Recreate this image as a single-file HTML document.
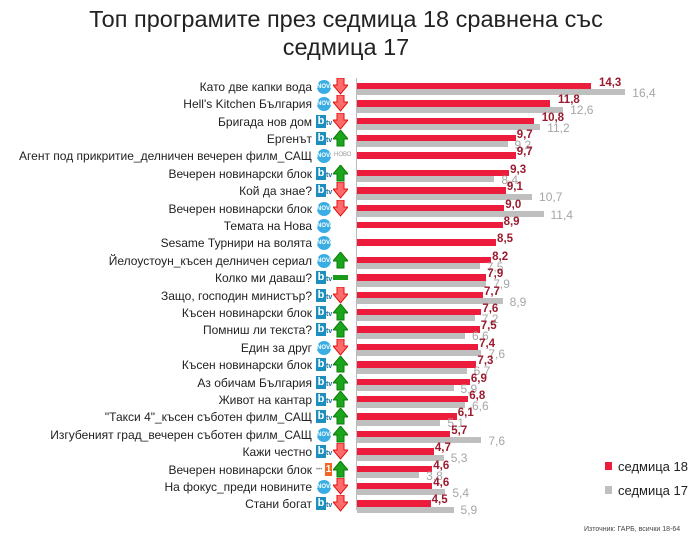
<!DOCTYPE html>
<html><head><meta charset="utf-8"><style>
body{margin:0;width:696px;height:542px;background:#fff;font-family:"Liberation Sans",sans-serif;position:relative;overflow:hidden}
.a{position:absolute;white-space:nowrap}
.t{left:0;width:692px;text-align:center;font-size:23.5px;color:#222;line-height:27px}
.lab{right:384px;font-size:12px;color:#222;text-align:right}
.r{background:#ec1c3c;height:6.5px;left:357px}
.g{background:#bfbfbf;height:6px;left:357px}
.rv{font-size:11.5px;font-weight:bold;color:#9b1b2e}
.gv{font-size:12px;color:#a6a6a6}
</style></head><body>
<div class="a t" style="top:6px">Топ програмите през седмица 18 сравнена със</div>
<div class="a t" style="top:34px">седмица 17</div>
<div class="a" style="left:356px;top:78px;width:1px;height:432px;background:#bbb"></div>
<div id="c"></div>
<div class="a" style="left:605px;top:462px;width:7px;height:8px;background:#ec1c3c"></div>
<div class="a" style="left:618px;top:459px;font-size:13px;color:#222">седмица 18</div>
<div class="a" style="left:605px;top:486px;width:7px;height:8px;background:#bfbfbf"></div>
<div class="a" style="left:618px;top:483px;font-size:13px;color:#222">седмица 17</div>
<div class="a" style="left:584px;top:526px;font-size:7px;color:#444">Източник: ГАРБ, всички 18-64</div>
<script>
var d=[
["Като две капки вода","n","d",14.3,16.4],
["Hell's Kitchen България","n","d",11.8,12.6],
["Бригада нов дом","b","d",10.8,11.2],
["Ергенът","b","u",9.7,9.2],
["Агент под прикритие_делничен вечерен филм_САЩ","n","x",9.7,0],
["Вечерен новинарски блок","b","u",9.3,8.4],
["Кой да знае?","b","d",9.1,10.7],
["Вечерен новинарски блок","n","d",9.0,11.4],
["Темата на Нова","n","",8.9,0],
["Sesame Турнири на волята","n","",8.5,0],
["Йелоустоун_късен делничен сериал","n","u",8.2,7.5],
["Колко ми даваш?","b","e",7.9,7.9],
["Защо, господин министър?","b","d",7.7,8.9],
["Късен новинарски блок","b","u",7.6,7.2],
["Помниш ли текста?","b","u",7.5,6.6],
["Един за друг","n","d",7.4,7.6],
["Късен новинарски блок","b","u",7.3,6.7],
["Аз обичам България","b","u",6.9,5.9],
["Живот на кантар","b","u",6.8,6.6],
["\"Такси 4\"_късен съботен филм_САЩ","b","u",6.1,5.1],
["Изгубеният град_вечерен съботен филм_САЩ","n","u",5.7,7.6],
["Кажи честно","b","d",4.7,5.3],
["Вечерен новинарски блок","1","u",4.6,3.8],
["На фокус_преди новините","n","d",4.6,5.4],
["Стани богат","b","d",4.5,5.9]];
var s=16.36,h="";
function f(v){return v.toFixed(1).replace(".",",")}
d.forEach(function(r,i){
 var y=82.7+i*17.4;
 h+='<div class="a lab" style="top:'+(y-3)+'px">'+r[0]+'</div>';
 if(r[1]=="n")h+='<div class="a" style="left:317px;top:'+(y-3)+'px;width:14px;height:14px;border-radius:50%;background:#3aaee4;color:#fff;font-size:6px;font-weight:bold;line-height:14px;text-align:center">NOVA</div>';
 else if(r[1]=="b")h+='<div class="a" style="left:316px;top:'+(y-3)+'px;width:10px;height:13px;background:#1d8fbf;color:#fff;font-size:11px;font-weight:bold;line-height:13px;text-align:center">b</div><div class="a" style="left:326px;top:'+(y+2)+'px;font-size:7px;color:#1d6f9f;font-weight:bold">tv</div>';
 else h+='<div class="a" style="left:316px;top:'+(y+1)+'px;font-size:6px;color:#888">•••</div><div class="a" style="left:325px;top:'+(y-3)+'px;width:7px;height:13px;background:#f26522;color:#fff;font-size:10px;font-weight:bold;line-height:13px;text-align:center">1</div>';
 if(r[2]=="d")h+='<svg class="a" style="left:333px;top:'+(y-5)+'px" width="15" height="17"><polygon points="4,0 11,0 11,7 15,7 7.5,16 0,7 4,7" fill="#ff6b6b" stroke="#e01010" stroke-width="1"/></svg>';
 if(r[2]=="u")h+='<svg class="a" style="left:333px;top:'+(y-5)+'px" width="15" height="17"><polygon points="7.5,0 15,9 11,9 11,16 4,16 4,9 0,9" fill="#1aa51a" stroke="#0c7a0c" stroke-width="1"/></svg>';
 if(r[2]=="e")h+='<div class="a" style="left:333px;top:'+(y+1)+'px;width:15px;height:5px;background:#1a9a1a"></div>';
 if(r[2]=="x")h+='<div class="a" style="left:334px;top:'+(y)+'px;font-size:6px;color:#999">НОВО</div>';
 var rw=r[3]*s;
 h+='<div class="a r" style="top:'+y+'px;width:'+rw+'px"></div>';
 h+='<div class="a rv" style="left:'+(357+rw+(r[3]>=10?8:1))+'px;top:'+(y-6)+'px">'+f(r[3])+'</div>';
 if(r[4]){var gw=r[4]*s;
 h+='<div class="a g" style="top:'+(y+6.5)+'px;width:'+gw+'px"></div>';
 h+='<div class="a gv" style="left:'+(357+gw+7)+'px;top:'+(y+3)+'px">'+f(r[4])+'</div>';}
});
document.getElementById("c").innerHTML=h;
</script>
</body></html>
